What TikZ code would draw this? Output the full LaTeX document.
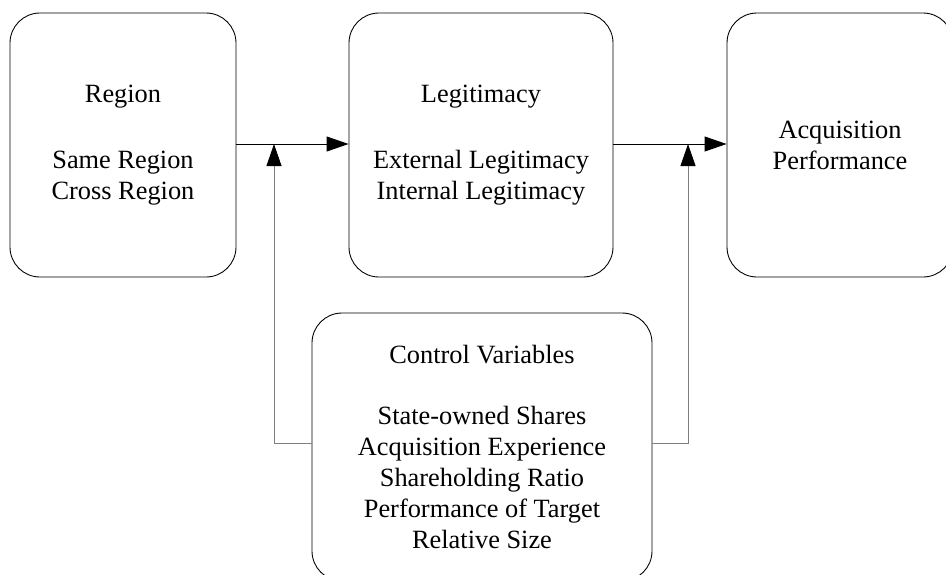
\documentclass[tikz,border=0pt]{standalone}
\usepackage{fontspec}
\setmainfont{Liberation Serif}
\usetikzlibrary{arrows.meta, positioning, calc}
\definecolor{cgrey}{HTML}{7F7F7F}
\tikzset{
  every picture/.style={line width=0.5pt},
  box/.style={draw=black, rounded corners=0.6cm, align=center, inner sep=0pt, minimum width=#1, minimum height=5.28cm, font=\fontsize{15}{17.6}\selectfont},
  box/.default=4.52cm,
  arrow/.style={-{Triangle[length=4.4mm, width=3mm]}, draw=black},
  ctrl/.style={-{Triangle[length=4.4mm, width=3mm, color=black]}, draw=cgrey},
}

\begin{document}
\begin{tikzpicture}
  \useasboundingbox (0,0) rectangle (18.92,-11.48);
  % the three main constructs in a row
  \node[box] (reg) at (2.46,-2.9) {Region\\[0.7cm]Same Region\\Cross Region};
  \node[box=5.28cm] (leg) at (9.62,-2.9) {Legitimacy\\[0.7cm]External Legitimacy\\Internal Legitimacy};
  \node[box] (perf) at (16.8,-2.9) {Acquisition\\Performance};
  % control variables below, running off the page
  \node[box=6.8cm, minimum height=5.36cm] (cv) at (9.64,-8.94) {Control Variables\\[0.6cm]State-owned Shares\\Acquisition Experience\\Shareholding Ratio\\Performance of Target\\Relative Size};
  % main paths
  \draw[arrow] ([yshift=0.02cm]reg.east) -- ([yshift=0.02cm]leg.west);
  \draw[arrow] ([yshift=0.02cm]leg.east) -- ([yshift=0.02cm]perf.west);
  % controls acting on both paths
  \coordinate (j1) at (5.48,-2.88);
  \coordinate (j2) at (13.76,-2.88);
  \draw[ctrl] ([yshift=0.08cm]cv.west) -| (j1);
  \draw[ctrl] ([yshift=0.08cm]cv.east) -| (j2);
\end{tikzpicture}
\end{document}
